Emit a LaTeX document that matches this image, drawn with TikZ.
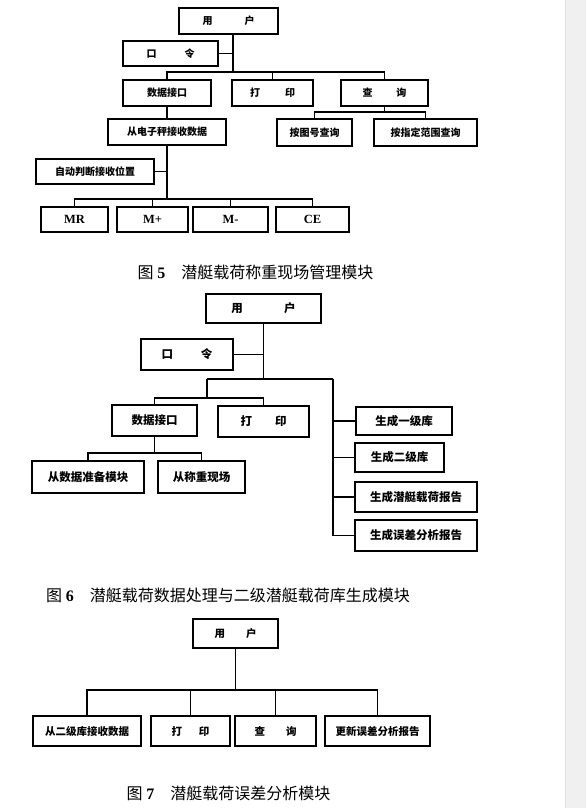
\documentclass[tikz,border=0pt]{standalone}
\usepackage{fontspec}
\setmainfont{Liberation Serif}
\newfontfamily\cjk{Noto Sans CJK SC}

\begin{document}
\begin{tikzpicture}[x=1pt, y=-1pt]
\tikzstyle{block} = [rectangle, draw, line width=1.5pt, inner sep=0pt, text centered]
\tikzstyle{block5} = [block, font=\cjk\bfseries\fontsize{10}{12}\selectfont]
\tikzstyle{block6} = [block, font=\cjk\bfseries\fontsize{11.5}{13}\selectfont]
\tikzstyle{block7} = [block, font=\cjk\bfseries\fontsize{10.5}{12}\selectfont]
\tikzstyle{key} = [block, font=\rmfamily\bfseries\fontsize{12.5}{14}\selectfont]
\tikzstyle{line} = [draw, line width=1.1pt]
\tikzstyle{caption} = [font=\cjk\fontsize{16}{18}\selectfont]

\useasboundingbox (0,0) rectangle (586,808);
\fill[white] (0,0) rectangle (565,808);
\fill[black!6] (565,0) rectangle (586,808);
\draw[black!12] (565,0) -- (565,808);

% Figure 5
\node (u5) [block5, minimum width=99pt, minimum height=26pt] at (228.5,21) {用\hspace{3.2em}户};
\node (k5) [block5, minimum width=95pt, minimum height=25pt] at (170.5,53.5) {口\hspace{2.8em}令};
\node (d5) [block5, minimum width=88pt, minimum height=26pt] at (167,93) {数据接口};
\node (p5) [block5, minimum width=81pt, minimum height=26pt] at (272.5,93) {打\hspace{2.5em}印};
\node (q5) [block5, minimum width=87pt, minimum height=26pt] at (384.5,93) {查\hspace{2.4em}询};
\node (qa5) [block5, minimum width=75pt, minimum height=27pt] at (314.5,132.5) {按图号查询};
\node (qb5) [block5, minimum width=103pt, minimum height=27pt] at (425.5,132.5) {按指定范围查询};
\node (r5) [block5, minimum width=118pt, minimum height=26pt] at (167,132) {从电子秤接收数据};
\node (a5) [block5, minimum width=118pt, minimum height=25pt] at (95,171.5) {自动判断接收位置};
\node (mr5) [key, minimum width=67pt, minimum height=25pt] at (74.5,219.5) {MR};
\node (mp5) [key, minimum width=71pt, minimum height=25pt] at (152.5,219.5) {M+};
\node (mm5) [key, minimum width=75pt, minimum height=25pt] at (230.5,219.5) {M-};
\node (ce5) [key, minimum width=73pt, minimum height=25pt] at (312.5,219.5) {CE};
\node (c5) [caption] at (255.5,272) {图 {\rmfamily\bfseries 5}\hspace{1em}潜艇载荷称重现场管理模块};

\coordinate (j5a) at (233,72);
\path[line] (u5.south -| j5a) -- (j5a);
\path[line] (k5.east) -- (k5.east -| j5a);
\path[line] (d5.north) |- (j5a) -| (q5.north);
\path[line] (p5.north) -- (p5.north |- j5a);
\coordinate (j5q) at (q5.south |- 0,112);
\path[line] (q5.south) -- (j5q);
\path[line] (qa5.north) |- (j5q) -| (qb5.north);
\path[line] (d5.south) -- (r5.north);
\coordinate (j5r) at (r5.south |- 0,199);
\path[line] (r5.south) -- (j5r);
\path[line] (a5.east) -- (a5.east -| j5r);
\path[line] (mr5.north) |- (j5r) -| (ce5.north);
\path[line] (mp5.north) -- (mp5.north |- j5r);
\path[line] (mm5.north) -- (mm5.north |- j5r);

% Figure 6
\node (u6) [block6, minimum width=115pt, minimum height=29pt] at (263.5,308.5) {用\hspace{3.6em}户};
\node (k6) [block6, minimum width=92pt, minimum height=31pt] at (187,354.5) {口\hspace{2.4em}令};
\node (d6) [block6, minimum width=85pt, minimum height=31pt] at (154.5,420.5) {数据接口};
\node (p6) [block6, minimum width=91pt, minimum height=31pt] at (263.5,421.5) {打\hspace{2em}印};
\node (s1) [block6, minimum width=112pt, minimum height=32pt] at (88,477) {从数据准备模块};
\node (s2) [block6, minimum width=87pt, minimum height=32pt] at (201.5,477) {从称重现场};
\node (g1) [block6, minimum width=96pt, minimum height=28pt] at (404,421) {生成一级库};
\node (g2) [block6, minimum width=89pt, minimum height=29pt] at (399.5,457.5) {生成二级库};
\node (g3) [block6, minimum width=122pt, minimum height=30pt] at (416,497) {生成潜艇载荷报告};
\node (g4) [block6, minimum width=122pt, minimum height=31pt] at (416,535.5) {生成误差分析报告};
\node (c6) [caption] at (228,595) {图 {\rmfamily\bfseries 6}\hspace{1em}潜艇载荷数据处理与二级潜艇载荷库生成模块};

\coordinate (j6a) at (u6.south |- 0,379);
\path[line] (u6.south) -- (j6a);
\path[line] (k6.east) -- (k6.east -| j6a);
\coordinate (j6b) at (207,379);
\coordinate (j6c) at (333,379);
\path[line] (j6b) -- (j6c);
\path[line] (j6c) |- (g4.west);
\path[line] (g1.west) -- (g1.west -| j6c);
\path[line] (g2.west) -- (g2.west -| j6c);
\path[line] (g3.west) -- (g3.west -| j6c);
\coordinate (j6d) at (207,398);
\path[line] (j6b) -- (j6d);
\path[line, line width=1.6pt] (d6.north) |- (j6d) -| (p6.north);
\coordinate (j6e) at (d6.south |- 0,453);
\path[line] (d6.south) -- (j6e);
\path[line, line width=1.6pt] (s1.north) |- (j6e) -| (s2.north);

% Figure 7
\node (u7) [block7, minimum width=85pt, minimum height=29pt] at (235.5,633.5) {用\hspace{2em}户};
\node (e1) [block7, minimum width=108pt, minimum height=30pt] at (87,731) {从二级库接收数据};
\node (e2) [block7, minimum width=79pt, minimum height=30pt] at (190.5,731) {打\hspace{1.6em}印};
\node (e3) [block7, minimum width=81pt, minimum height=30pt] at (275.5,731) {查\hspace{2em}询};
\node (e4) [block7, minimum width=105pt, minimum height=30pt] at (377.5,731) {更新误差分析报告};
\node (c7) [caption] at (228.5,793) {图 {\rmfamily\bfseries 7}\hspace{1em}潜艇载荷误差分析模块};

\coordinate (j7) at (u7.south |- 0,690);
\path[line] (u7.south) -- (j7);
\path[line, line width=1.8pt] (e1.north) |- (j7) -| (e4.north);
\path[line] (e2.north) -- (e2.north |- j7);
\path[line] (e3.north) -- (e3.north |- j7);
\end{tikzpicture}
\end{document}
